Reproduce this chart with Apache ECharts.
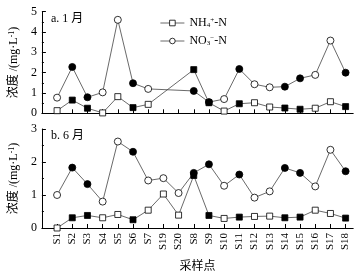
<!DOCTYPE html>
<html>
<head>
<meta charset="utf-8">
<script src="https://cdn.jsdelivr.net/npm/echarts@6/dist/echarts.min.js"></script>
<style>html,body{margin:0;padding:0;background:#fff}#c{width:360px;height:274px}</style>
</head>
<body>
<div id="c"></div>
<script>
const cats = ['S1','S2','S3','S4','S5','S6','S7','S19','S20','S8','S9','S10','S11','S12','S13','S14','S15','S16','S17','S18'];
const filledSites = ['S2','S3','S6','S8','S9','S11','S14','S15','S18'];
const janNH4 = [0.13,0.65,0.25,0.02,0.82,0.28,0.44,null,null,2.15,0.52,0.11,0.47,0.52,0.31,0.26,0.20,0.25,0.57,0.33];
const janNO3 = [0.77,2.28,0.79,1.03,4.6,1.48,1.2,null,null,1.1,0.55,0.70,2.18,1.43,1.28,1.31,1.72,1.89,3.58,2.0];
const junNH4 = [0.0,0.31,0.38,0.31,0.41,0.25,0.54,1.03,0.39,1.59,0.38,0.29,0.33,0.35,0.36,0.31,0.33,0.54,0.44,0.30];
const junNO3 = [1.0,1.83,1.33,0.80,2.62,2.31,1.44,1.51,1.06,1.67,1.93,1.28,1.62,0.92,1.11,1.82,1.67,1.26,2.37,1.72];
const yTop = [0,5];
const yBottom = [0,3];

const FONT = '"Liberation Serif", "Noto Sans CJK SC", serif';
const positions = cats.map((c,i)=>i+1);

function mk(vals){
  const out=[];
  vals.forEach((v,i)=>{
    if(v==null) return;
    const filled = filledSites.indexOf(cats[i])>=0;
    out.push({value:[i+1,v], itemStyle:{color: filled?'#000':'#fff', borderColor:'#000'}});
  });
  return out;
}
function xAxis(gi, showLabels){
  return {
    type:'value', gridIndex:gi, min:0, max:cats.length+0.5,
    axisLine:{lineStyle:{color:'#000',width:1}},
    axisTick:{inside:true,length:4,customValues:positions,lineStyle:{color:'#000'}},
    axisLabel:{show:showLabels,customValues:positions,rotate:90,margin:5,
      formatter:v=>cats[Math.round(v)-1]||'',
      fontFamily:FONT,fontSize:11,color:'#000'},
    splitLine:{show:false},
    name: showLabels?'采样点':'', nameLocation:'middle', nameGap:33,
    nameTextStyle:{fontFamily:FONT,fontSize:12,color:'#000'}
  };
}
function yAxis(gi, ext){
  return {
    type:'value', gridIndex:gi, min:ext[0], max:ext[1], interval:1,
    axisLine:{show:true,lineStyle:{color:'#000'}},
    axisTick:{show:true,inside:true,length:4,lineStyle:{color:'#000'}},
    minorTick:{show:true,splitNumber:2,length:2,lineStyle:{color:'#000'}},
    axisLabel:{fontFamily:FONT,fontSize:12,color:'#000',margin:5},
    splitLine:{show:false},
    name:'浓度 /(mg·L{p|-1})', nameLocation:'middle', nameGap:20, nameRotate:90,
    nameTextStyle:{fontFamily:FONT,fontSize:12,color:'#000',
      rich:{p:{fontFamily:FONT,fontSize:8,verticalAlign:'top',color:'#000'}}}
  };
}
function line(name, vals, gi, sym, size){
  return {
    name:name, type:'line', xAxisIndex:gi, yAxisIndex:gi, data:mk(vals),
    symbol:sym, symbolSize:size, showAllSymbol:true,
    lineStyle:{color:'#444',width:0.8},
    itemStyle:{color:'#fff',borderColor:'#000',borderWidth:0.8},
    animation:false, z: sym==='circle'?3:4
  };
}
const chart = echarts.init(document.getElementById('c'), null, {renderer:'canvas'});
chart.setOption({
  animation:false,
  backgroundColor:'#fff',
  title:[
    {text:'a. 1 月', left:46, top:8, textStyle:{fontFamily:FONT,fontSize:12,fontWeight:'normal',color:'#000'}},
    {text:'b. 6 月', left:46, top:125, textStyle:{fontFamily:FONT,fontSize:12,fontWeight:'normal',color:'#000'}}
  ],
  legend:{
    orient:'vertical', left:155, top:12, itemWidth:24, itemHeight:7, itemGap:6,
    data:['NH4','NO3'],
    itemStyle:{color:'#fff',borderColor:'#000',borderWidth:0.8},
    lineStyle:{color:'#444',width:0.8},
    formatter:n=> n==='NH4' ? 'NH{s|4}{p|+}-N' : 'NO{s|3}{p|−}-N',
    textStyle:{fontFamily:FONT,fontSize:12,color:'#000',
      rich:{s:{fontFamily:FONT,fontSize:7,verticalAlign:'bottom',color:'#000'},
            p:{fontFamily:FONT,fontSize:7,verticalAlign:'top',color:'#000'}}}
  },
  grid:[
    {left:37.5, right:6.8, top:11.7, height:101.6},
    {left:37.5, right:6.8, top:129, height:103.3}
  ],
  xAxis:[xAxis(0,false), xAxis(1,true)],
  yAxis:[yAxis(0,yTop), yAxis(1,yBottom)],
  series:[
    line('NH4', janNH4, 0, 'rect', 6),
    line('NO3', janNO3, 0, 'circle', 7),
    line('NH4', junNH4, 1, 'rect', 6),
    line('NO3', junNO3, 1, 'circle', 7)
  ]
});
</script>
</body>
</html>
